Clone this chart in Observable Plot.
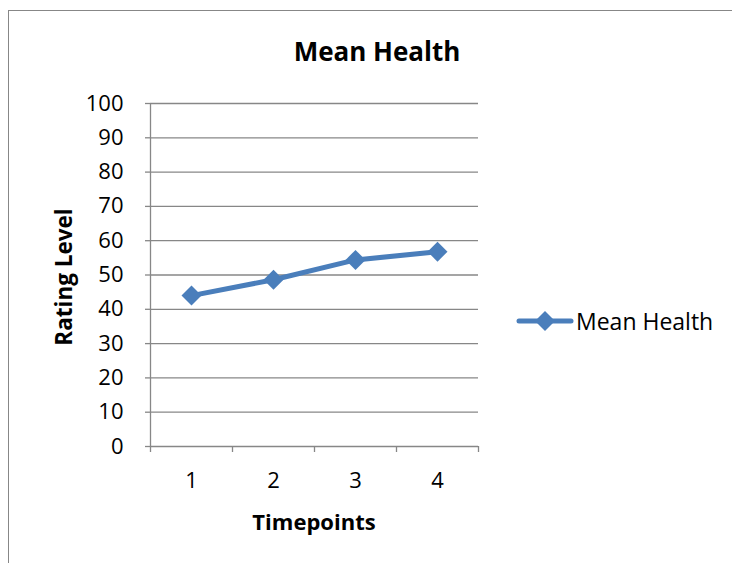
<!DOCTYPE html>
<html>
<head>
<meta charset="utf-8">
<script src="https://cdn.jsdelivr.net/npm/d3@7"></script>
<script src="https://cdn.jsdelivr.net/npm/@observablehq/plot@0.6"></script>
<style>
  html, body { margin: 0; padding: 0; background: #fff; }
  #wrap { position: relative; width: 732px; height: 563px; overflow: hidden; font-family: "Open Sans", sans-serif; color: #000; }
  #frame { position: absolute; left: 8px; top: 10px; width: 800px; height: 700px; border-left: 1.5px solid #878787; border-top: 1.5px solid #878787; box-sizing: border-box; }
  #chart { position: absolute; left: 0; top: 0; }
  .lbl { position: absolute; white-space: nowrap; }
  #title { left: 377px; top: 51px; transform: translate(-50%, -50%); font-weight: bold; font-size: 26px; }
  #ylab { left: 63px; top: 277px; transform: translate(-50%, -50%) rotate(-90deg); font-weight: bold; font-size: 22.5px; }
  #xlab { left: 314px; top: 521px; transform: translate(-50%, -50%); font-weight: bold; font-size: 22px; }
  #legend { left: 516px; top: 321px; transform: translateY(-50%); display: flex; align-items: center; font-size: 23px; }
</style>
</head>
<body>
<div id="wrap">
  <div id="frame"></div>
  <div id="chart"></div>
  <div class="lbl" id="title"></div>
  <div class="lbl" id="ylab"></div>
  <div class="lbl" id="xlab"></div>
  <div class="lbl" id="legend"></div>
</div>
<script>
const titleText = "Mean Health";
const seriesName = "Mean Health";
const xTitle = "Timepoints";
const yTitle = "Rating Level";
const timepoints = [1, 2, 3, 4];
const meanHealth = [44.0, 48.6, 54.4, 56.8];
const yTicks = [0, 10, 20, 30, 40, 50, 60, 70, 80, 90, 100];
const xBoundaries = [0.5, 1.5, 2.5, 3.5, 4.5];

const lineColor = "#4a7ebb";
const gridColor = "#878787";

const data = timepoints.map((t, i) => ({t, v: meanHealth[i]}));

const chart = Plot.plot({
  width: 732,
  height: 563,
  marginLeft: 150,
  marginRight: 254,
  marginTop: 103,
  marginBottom: 117,
  style: {fontFamily: "Open Sans, sans-serif", fontSize: "22px", color: "#000", background: "transparent"},
  x: {type: "linear", domain: [0.5, 4.5]},
  y: {type: "linear", domain: [0, 100]},
  marks: [
    Plot.gridY(yTicks.filter(d => d > 0), {stroke: gridColor, strokeOpacity: 1, strokeWidth: 1.3}),
    Plot.ruleY([0], {stroke: gridColor, strokeWidth: 1.3}),
    Plot.ruleX([0.5], {stroke: gridColor, strokeWidth: 1.3}),
    Plot.axisY({ticks: yTicks, tickSize: 5, tickPadding: 22, stroke: gridColor, strokeWidth: 1.3, fill: "#000", label: null, fontSize: 22}),
    Plot.axisX({ticks: xBoundaries, tickSize: 6, tickFormat: () => "", stroke: gridColor, strokeWidth: 1.3, label: null}),
    Plot.axisX({ticks: timepoints, tickSize: 0, tickPadding: 26, tickFormat: d => String(d), fill: "#000", label: null, fontSize: 22}),
    Plot.line(data, {x: "t", y: "v", stroke: lineColor, strokeWidth: 5, strokeLinejoin: "round", strokeLinecap: "round"}),
    Plot.dot(data, {x: "t", y: "v", symbol: "diamond2", r: 9, fill: lineColor, stroke: "none"})
  ]
});
document.getElementById("chart").appendChild(chart);

document.getElementById("title").textContent = titleText;
document.getElementById("ylab").textContent = yTitle;
document.getElementById("xlab").textContent = xTitle;

const leg = document.getElementById("legend");
const ns = "http://www.w3.org/2000/svg";
const ls = document.createElementNS(ns, "svg");
ls.setAttribute("width", 58); ls.setAttribute("height", 22);
ls.style.marginRight = "2px";
const ln = document.createElementNS(ns, "line");
ln.setAttribute("x1", 3); ln.setAttribute("x2", 55); ln.setAttribute("y1", 11); ln.setAttribute("y2", 11);
ln.setAttribute("stroke", lineColor); ln.setAttribute("stroke-width", 5); ln.setAttribute("stroke-linecap", "round");
ls.appendChild(ln);
const dm = document.createElementNS(ns, "path");
dm.setAttribute("d", d3.symbol(d3.symbolDiamond2, 81 * Math.PI)());
dm.setAttribute("transform", "translate(29,11)");
dm.setAttribute("fill", lineColor);
ls.appendChild(dm);
leg.appendChild(ls);
const lt = document.createElement("span");
lt.textContent = seriesName;
leg.appendChild(lt);
</script>
</body>
</html>
